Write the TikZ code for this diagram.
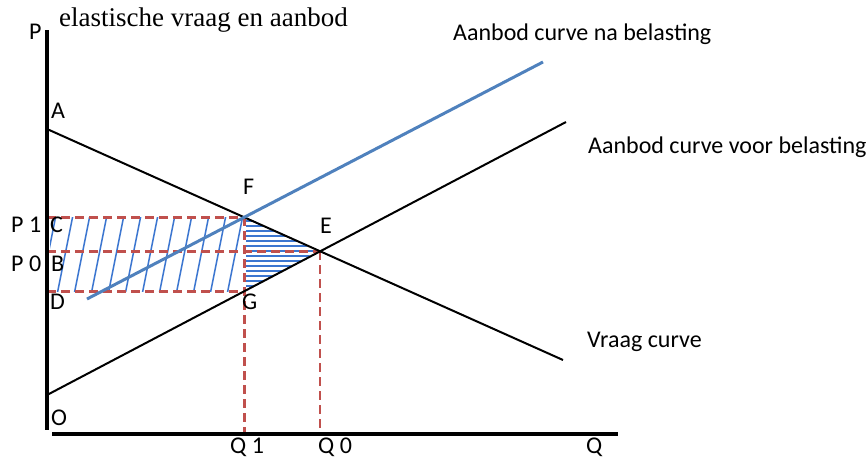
\documentclass[tikz,border=0pt]{standalone}
\usepackage{fontspec}
\setmainfont{Carlito}
\newfontfamily\titlefont{Liberation Serif}

\definecolor{taxblue}{RGB}{79,129,189}
\definecolor{hatchblue}{RGB}{60,118,208}
\definecolor{guidered}{RGB}{192,80,77}

\tikzset{
  lbl/.style={anchor=base west, inner sep=0pt, font=\fontsize{24}{28}\selectfont},
  curvelbl/.style={anchor=base west, inner sep=0pt, font=\fontsize{24}{28}\selectfont},
  guide/.style={guidered, dash pattern=on 9pt off 5pt, line width=2.6pt},
  hatch/.style={hatchblue, line width=1.5pt},
}

\begin{document}
\begin{tikzpicture}[x=1pt, y=-1pt]
  \useasboundingbox (0,0) rectangle (868,463);

  % axes
  \coordinate (Ptop) at (47,30);
  \coordinate (Pbot) at (47,430);
  \coordinate (Qleft) at (52,434);
  \coordinate (Qend) at (618,434);

  % demand and the two supply curves
  \coordinate (A) at (47,129);
  \coordinate (Vend) at (563,360);
  \coordinate (S0) at (47,395);
  \coordinate (S0end) at (566,122);
  \coordinate (S1) at (87,299);
  \coordinate (S1end) at (543,62);

  % equilibria
  \coordinate (E) at (intersection of A--Vend and S0--S0end);
  \coordinate (F) at (intersection of A--Vend and S1--S1end);
  \coordinate (Q1) at (F |- Qend);
  \coordinate (Q0) at (E |- Qend);
  \coordinate (G) at (intersection of S0--S0end and F--Q1);
  \coordinate (C) at (A |- F);
  \coordinate (B) at (A |- E);
  \coordinate (D) at (A |- G);

  % tax revenue: slanted hatching
  \begin{scope}
    \clip ([xshift=3pt]C) rectangle (G);
    \foreach \x in {40,57,...,260}
      \draw[hatch] (\x,295) -- ++(16,-80);
  \end{scope}

  % deadweight loss: horizontal hatching
  \begin{scope}
    \clip ([xshift=2pt]F) -- ([xshift=-3pt]E) -- ([xshift=2pt]G) -- cycle;
    \foreach \y in {221,226,...,288}
      \draw[hatch] (240,\y) -- (320,\y);
  \end{scope}

  % guide lines
  \draw[guide] (C) -- (F);
  \draw[guide] (B) -- (E);
  \draw[guide] (D) -- (G);
  \draw[guide] (F) -- (Q1);
  \draw[guide] (E) -- (Q0);

  \draw[line width=2pt] (A) -- (Vend);
  \draw[line width=2pt] (S0) -- (S0end);
  \draw[taxblue, line width=3pt] (S1) -- (S1end);

  \draw[line width=3.5pt] (Ptop) -- (Pbot);
  \draw[line width=3.5pt] (Qleft) -- (Qend);

  % labels
  \node[anchor=base west, inner sep=0pt, font=\titlefont\fontsize{27}{31}\selectfont] (title) at (59,27) {elastische vraag en aanbod};
  \node[lbl] (labP) at (29,39) {P};
  \node[lbl] (labA) at (51,118) {A};
  \node[lbl] (labF) at (243,194) {F};
  \node[lbl] (labE) at (320,233) {E};
  \node[lbl] (labC) at (50,232) {C};
  \node[lbl] (labB) at (51,271) {B};
  \node[lbl] (labD) at (50,309) {D};
  \node[lbl] (labG) at (242,309) {G};
  \node[lbl] (labPa) at (11,232) {P 1};
  \node[lbl] (labPb) at (11,271) {P 0};
  \node[lbl] (labO) at (51,425) {O};
  \node[lbl] (labQa) at (230,453) {Q 1};
  \node[lbl] (labQb) at (318,453) {Q 0};
  \node[lbl] (labQ) at (586,453) {Q};
  \node[curvelbl] (labS1) at (453,40) {Aanbod curve na belasting};
  \node[curvelbl] (labS0) at (588,153) {Aanbod curve voor belasting};
  \node[curvelbl] (labV) at (587,347) {Vraag curve};

\end{tikzpicture}
\end{document}
